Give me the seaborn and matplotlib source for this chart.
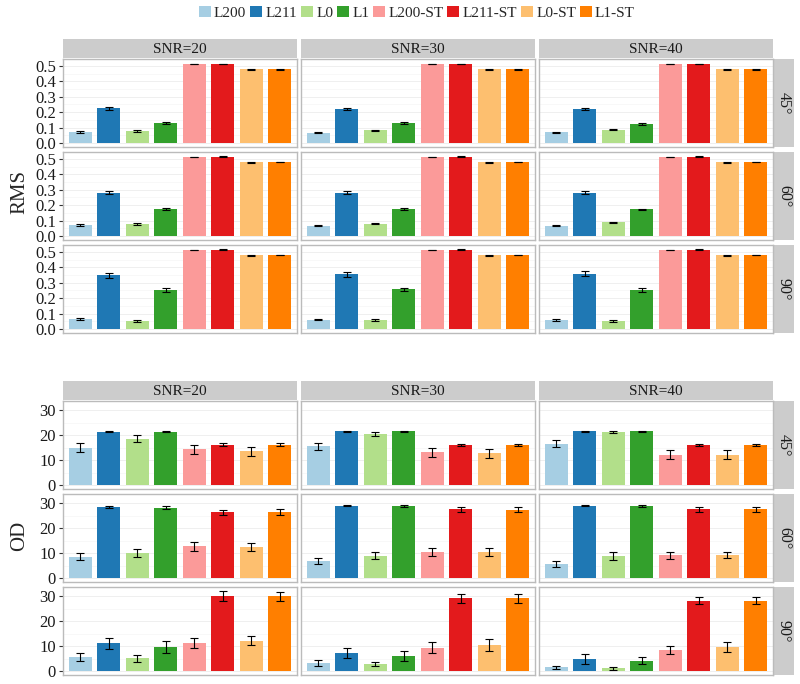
import numpy as np
import pandas as pd
import matplotlib
matplotlib.use('Agg')
import matplotlib.pyplot as plt
from matplotlib.patches import Patch
from matplotlib.ticker import MultipleLocator
import seaborn as sns

sns.set_style('white')
plt.rcParams['font.family'] = ['Liberation Serif', 'DejaVu Serif']

methods = ['L200', 'L211', 'L0', 'L1', 'L200-ST', 'L211-ST', 'L0-ST', 'L1-ST']
colors = ['#A6CEE3', '#1F78B4', '#B2DF8A', '#33A02C', '#FB9A99', '#E31A1C', '#FDBF6F', '#FF7F00']
snrs = [20, 30, 40]
angles = [45, 60, 90]

# one inner list per SNR (20, 30, 40), values in method order
rms_45 = [[0.070, 0.224, 0.078, 0.128, 0.512, 0.513, 0.477, 0.478],
          [0.068, 0.221, 0.082, 0.128, 0.512, 0.513, 0.477, 0.478],
          [0.070, 0.221, 0.087, 0.124, 0.512, 0.513, 0.477, 0.478]]
rms_45_err = [[0.005, 0.009, 0.006, 0.006, 0.002, 0.002, 0.002, 0.002],
              [0.004, 0.008, 0.005, 0.005, 0.002, 0.002, 0.002, 0.002],
              [0.004, 0.008, 0.004, 0.005, 0.002, 0.002, 0.002, 0.002]]
rms_60 = [[0.070, 0.282, 0.077, 0.177, 0.513, 0.514, 0.478, 0.479],
          [0.066, 0.280, 0.081, 0.174, 0.513, 0.514, 0.478, 0.479],
          [0.067, 0.281, 0.089, 0.172, 0.513, 0.514, 0.478, 0.479]]
rms_60_err = [[0.005, 0.010, 0.006, 0.007, 0.002, 0.002, 0.002, 0.002],
              [0.004, 0.009, 0.005, 0.006, 0.002, 0.002, 0.002, 0.002],
              [0.004, 0.009, 0.005, 0.006, 0.002, 0.002, 0.002, 0.002]]
rms_90 = [[0.066, 0.348, 0.053, 0.253, 0.513, 0.514, 0.478, 0.479],
          [0.061, 0.354, 0.056, 0.257, 0.513, 0.514, 0.478, 0.479],
          [0.058, 0.360, 0.050, 0.254, 0.513, 0.514, 0.478, 0.479]]
rms_90_err = [[0.005, 0.014, 0.007, 0.011, 0.002, 0.002, 0.002, 0.002],
              [0.004, 0.015, 0.006, 0.012, 0.002, 0.002, 0.002, 0.002],
              [0.004, 0.015, 0.006, 0.011, 0.002, 0.002, 0.002, 0.002]]

od_45 = [[14.9, 21.4, 18.6, 21.4, 14.3, 16.2, 13.6, 16.2],
         [15.5, 21.6, 20.5, 21.6, 13.2, 16.2, 12.8, 16.2],
         [16.6, 21.6, 21.2, 21.6, 12.2, 16.1, 12.2, 16.1]]
od_45_err = [[1.8, 0.2, 1.3, 0.2, 1.8, 0.5, 1.8, 0.5],
             [1.5, 0.2, 0.7, 0.2, 1.8, 0.4, 1.8, 0.4],
             [1.4, 0.2, 0.4, 0.2, 1.8, 0.3, 1.8, 0.3]]
od_60 = [[8.6, 28.5, 10.0, 28.2, 12.7, 26.4, 12.4, 26.4],
         [6.8, 29.0, 8.9, 28.8, 10.5, 27.6, 10.4, 27.4],
         [5.7, 29.0, 8.9, 28.9, 9.1, 27.6, 9.3, 27.6]]
od_60_err = [[1.4, 0.5, 1.6, 0.7, 1.8, 1.0, 1.6, 1.1],
             [1.3, 0.2, 1.4, 0.3, 1.6, 1.0, 1.5, 1.0],
             [1.1, 0.1, 1.6, 0.3, 1.3, 1.0, 1.2, 1.0]]
od_90 = [[5.7, 11.1, 5.1, 9.7, 11.3, 30.1, 12.2, 30.0],
         [3.2, 7.2, 2.8, 6.1, 9.3, 29.2, 10.4, 29.2],
         [1.6, 5.0, 1.2, 4.2, 8.4, 28.2, 9.6, 28.2]]
od_90_err = [[1.5, 2.2, 1.3, 2.3, 2.0, 2.0, 1.8, 1.8],
             [1.2, 2.0, 0.9, 2.0, 2.2, 1.8, 2.3, 1.8],
             [0.6, 2.0, 0.6, 1.5, 1.6, 1.4, 2.0, 1.4]]

rows = []
tables = {'RMS': ({45: rms_45, 60: rms_60, 90: rms_90}, {45: rms_45_err, 60: rms_60_err, 90: rms_90_err}),
          'OD': ({45: od_45, 60: od_60, 90: od_90}, {45: od_45_err, 60: od_60_err, 90: od_90_err})}
for metric, (means, errs) in tables.items():
    for a in angles:
        for i, s in enumerate(snrs):
            for m, v, e in zip(methods, means[a][i], errs[a][i]):
                rows.append(dict(metric=metric, angle=a, snr=s, method=m, value=v, err=e))
df = pd.DataFrame(rows)

W, H = 800, 684
fig = plt.figure(figsize=(W / 100, H / 100), dpi=100)

def px_axes(x, top, w, h):
    return fig.add_axes([x / W, 1 - (top + h) / H, w / W, h / H])

col_x = [63, 301, 539]
panel_w, panel_h = 234, 88
grids = {'RMS': dict(tops=[59, 152, 245], strip=39, ylim=(-0.026, 0.545), major=0.1, minor=0.05,
                     fmt='%.1f'),
         'OD': dict(tops=[401, 494, 587], strip=381, ylim=(-1.6, 33.6), major=10, minor=5,
                    fmt='%d')}

for metric, g in grids.items():
    for c, s in enumerate(snrs):
        st = px_axes(col_x[c], g['strip'], panel_w, 19)
        st.set_facecolor('#CCCCCC')
        st.set_xticks([]); st.set_yticks([])
        for sp in st.spines.values():
            sp.set_visible(False)
        st.text(0.5, 0.45, 'SNR=%d' % s, ha='center', va='center', fontsize=11, color='#1a1a1a',
                transform=st.transAxes)
    for r, a in enumerate(angles):
        rs = px_axes(774, g['tops'][r], 20, panel_h)
        rs.set_facecolor('#CCCCCC')
        rs.set_xticks([]); rs.set_yticks([])
        for sp in rs.spines.values():
            sp.set_visible(False)
        rs.text(0.5, 0.5, '%d\u00b0' % a, ha='center', va='center', rotation=-90, fontsize=11.5,
                color='#1a1a1a', transform=rs.transAxes)
        for c, s in enumerate(snrs):
            ax = px_axes(col_x[c], g['tops'][r], panel_w, panel_h)
            sub = df[(df.metric == metric) & (df.angle == a) & (df.snr == s)]
            ax.set_axisbelow(True)
            sns.barplot(data=sub, x='method', y='value', hue='method', order=methods,
                        hue_order=methods, palette=colors, saturation=1, width=0.8,
                        legend=False, linewidth=0, ax=ax)
            ax.errorbar(np.arange(len(methods)), sub['value'], yerr=sub['err'], fmt='none',
                        ecolor='black', elinewidth=0.8, capsize=3.2, capthick=0.8)
            ax.set_xlim(-0.6, 7.6)
            ax.set_ylim(*g['ylim'])
            ax.set_xticks([])
            ax.set_xlabel('')
            ax.set_ylabel('')
            ax.yaxis.set_major_locator(MultipleLocator(g['major']))
            ax.yaxis.set_minor_locator(MultipleLocator(g['minor']))
            ax.yaxis.set_major_formatter(matplotlib.ticker.FormatStrFormatter(g['fmt']))
            ax.grid(which='major', axis='y', color='#EDEDED', lw=0.6)
            ax.grid(which='minor', axis='y', color='#F6F6F6', lw=0.5)
            for sp in ax.spines.values():
                sp.set_color('#BBBBBB')
                sp.set_linewidth(1.0)
            ax.tick_params(axis='y', which='minor', length=0)
            if c == 0:
                ax.tick_params(axis='y', which='major', length=3, width=0.8, color='#333333',
                               labelsize=12, pad=2, labelcolor='#1a1a1a', left=True)
            else:
                ax.tick_params(axis='y', which='major', length=0, labelleft=False)

fig.text(20 / W, 1 - 192 / H, 'RMS', rotation=90, ha='center', va='center', fontsize=15)
fig.text(20 / W, 1 - 536 / H, 'OD', rotation=90, ha='center', va='center', fontsize=15)

handles = [Patch(facecolor=col, edgecolor='none') for col in colors]
fig.legend(handles, methods, loc='upper center', bbox_to_anchor=(0.521, 1.012), ncol=8,
           frameon=False, handlelength=0.8, handleheight=0.8, handletextpad=0.2,
           columnspacing=0.25, fontsize=11)

fig.savefig('out.png', dpi=100)
